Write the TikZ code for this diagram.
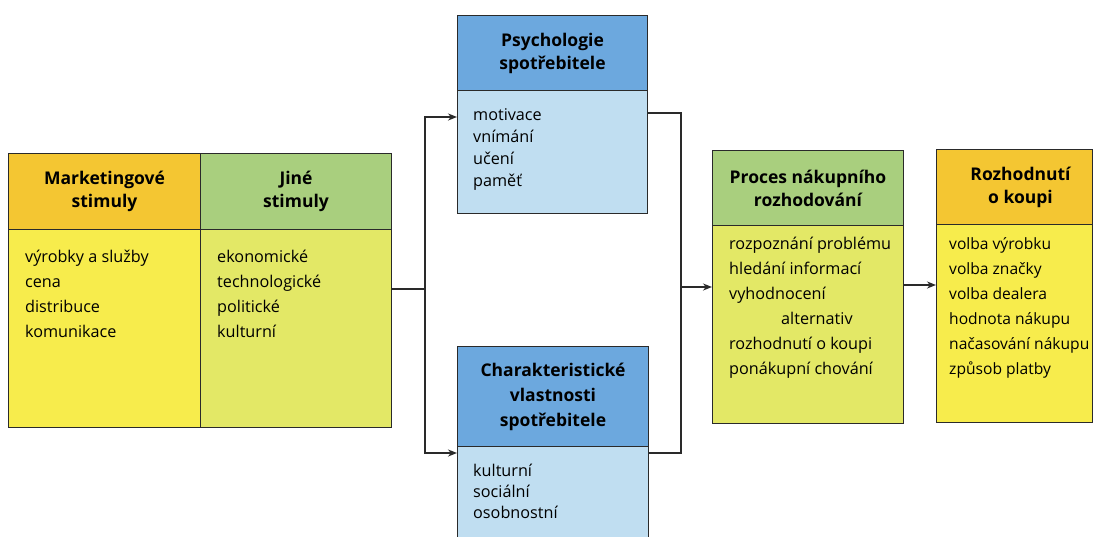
\documentclass[tikz,border=0pt]{standalone}
\usepackage{fontspec}
\setmainfont{Open Sans}
\usetikzlibrary{arrows.meta,calc}
\definecolor{hOrange}{HTML}{F4C632}
\definecolor{hGreen}{HTML}{A9CF7E}
\definecolor{hBlue}{HTML}{6CA8DE}
\definecolor{bYellow}{HTML}{F7EC4C}
\definecolor{bLime}{HTML}{E3E866}
\definecolor{bBlue}{HTML}{C0DEF1}
\definecolor{lineC}{HTML}{2A2A2A}
\tikzset{
  cell/.style={draw=lineC, line width=1pt, rectangle, inner sep=0pt, anchor=north west},
  headtxt/.style={font=\bfseries\fontsize{17.5}{23}\selectfont, align=center, inner sep=0pt},
  bodytxt/.style={font=\fontsize{16.2}{25}\selectfont, align=left, inner sep=0pt, anchor=north west},
  conn/.style={draw=lineC, line width=1.6pt},
  arr/.style={conn, -{Stealth[length=9pt,width=7pt]}},
}
\newcommand{\cellbox}[6]{% name, x1, y1, x2, y2, fill
  \node[cell, fill=#6, minimum width={(#4-#2)*1pt}, minimum height={(#5-#3)*1pt}] (#1) at (#2,#3) {};}
\begin{document}
\begin{tikzpicture}[x=1pt,y=-1pt]
\useasboundingbox (0,0) rectangle (1094,536);
\clip (0,0) rectangle (1094,536);
\fill[white] (0,0) rectangle (1094,536);
% left block
\cellbox{mhead}{8}{153}{200}{229}{hOrange}
\cellbox{jhead}{200}{153}{391}{229}{hGreen}
\cellbox{mbody}{8}{229}{200}{427}{bYellow}
\cellbox{jbody}{200}{229}{391}{427}{bLime}
\node[headtxt] (mheadt) at (mhead.center) {Marketingové\\stimuly};
\node[headtxt] (jheadt) at (jhead.center) {Jiné\\stimuly};
\node[bodytxt] (mbodyt) at (25,245) {\strut výrobky a služby\\cena\\distribuce\\komunikace};
\node[bodytxt] (jbodyt) at (217,245) {\strut ekonomické\\technologické\\politické\\kulturní};
% psychology
\cellbox{phead}{457}{15}{647}{90}{hBlue}
\cellbox{pbody}{457}{90}{647}{213}{bBlue}
\node[headtxt] (pheadt) at (phead.center) {Psychologie\\spotřebitele};
\node[bodytxt, font=\fontsize{16.2}{22}\selectfont] (pbodyt) at (473,105) {\strut motivace\\vnímání\\učení\\paměť};
% characteristics
\cellbox{chead}{457}{346}{648}{446}{hBlue}
\cellbox{cbody}{457}{446}{648}{560}{bBlue}
\node[headtxt, font=\bfseries\fontsize{17.5}{25}\selectfont] (cheadt) at (chead.center) {Charakteristické\\vlastnosti\\spotřebitele};
\node[bodytxt, font=\fontsize{16.2}{21}\selectfont] (cbodyt) at (473,462) {\strut kulturní\\sociální\\osobnostní};
% process
\cellbox{rhead}{712}{150}{903}{225}{hGreen}
\cellbox{rbody}{712}{225}{903}{423}{bLime}
\node[headtxt] (rheadt) at (rhead.center) {Proces nákupního\\rozhodování};
\node[bodytxt] (rbodyt) at (729,232) {\strut rozpoznání problému\\hledání informací\\vyhodnocení\\\hspace*{52pt}alternativ\\rozhodnutí o koupi\\ponákupní chování};
% decision
\cellbox{dhead}{936}{149}{1092}{224}{hOrange}
\cellbox{dbody}{936}{224}{1092}{422}{bYellow}
\node[headtxt] (dheadt) at ($(dhead.center)+(6,0)$) {Rozhodnutí\\o koupi};
\node[bodytxt, font=\fontsize{15.6}{25}\selectfont] (dbodyt) at (949,232) {\strut volba výrobku\\volba značky\\volba dealera\\hodnota nákupu\\načasování nákupu\\způsob platby};
% connectors
\coordinate (split) at (425,289);
\coordinate (merge) at (681,287);
\coordinate (pin) at (457,117);
\coordinate (cin) at (457,453);
\coordinate (pout) at (647,113);
\coordinate (cout) at (648,453);
\draw[conn] (jbody.east |- split) -- (split);
\draw[arr] (split) |- (pin);
\draw[arr] (split) |- (cin);
\draw[conn] (pout) -| (merge);
\draw[conn] (cout) -| (merge);
\draw[arr] (merge) -- (rbody.west |- merge);
\draw[arr] (rbody.east |- 0,285) -- (dbody.west |- 0,285);
\end{tikzpicture}
\end{document}
